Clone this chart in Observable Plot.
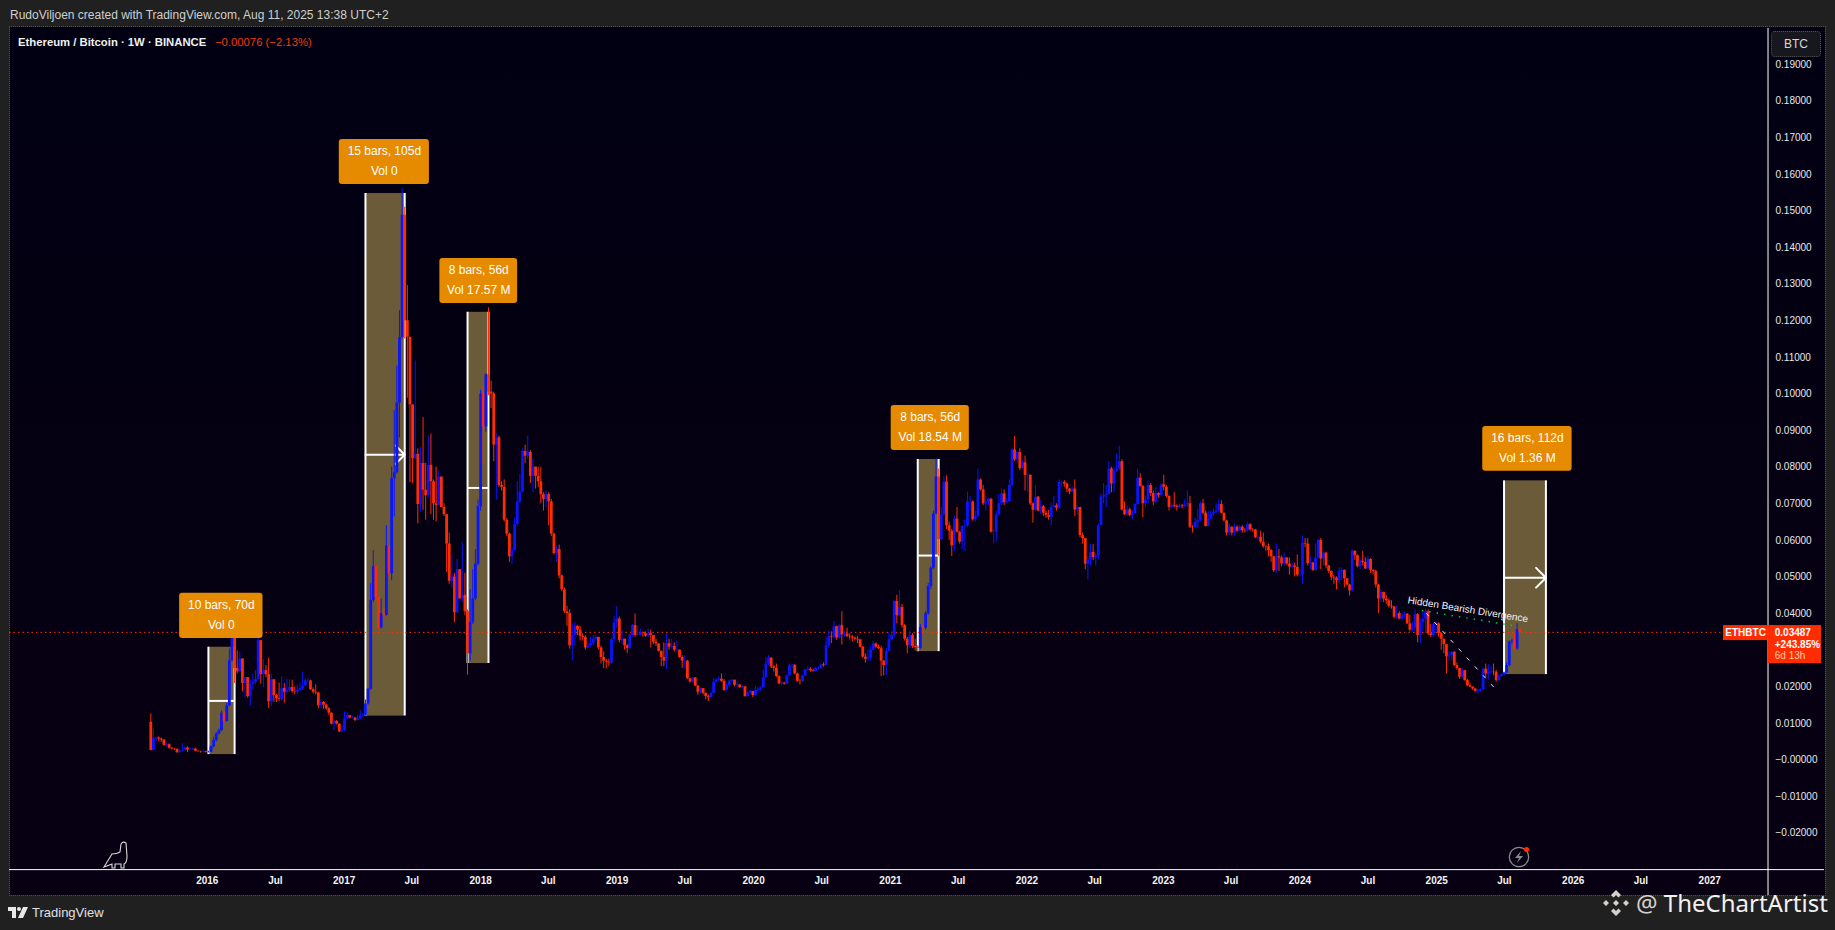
<!DOCTYPE html>
<html><head><meta charset="utf-8">
<script src="https://cdn.jsdelivr.net/npm/d3@7"></script>
<script src="https://cdn.jsdelivr.net/npm/@observablehq/plot@0.6"></script>
<style>
html,body{margin:0;padding:0;background:#202020;width:1835px;height:930px;overflow:hidden;font-family:"Liberation Sans",sans-serif}
.abs{position:absolute;white-space:nowrap}
#panel{left:10px;top:27px;width:1815px;height:868px;background:linear-gradient(#010012,#080012);outline:1px dotted #4d4d4d}
#chart{position:absolute;left:0;top:0;width:1835px;height:930px}
</style></head><body>
<div id="panel" class="abs"></div>
<div id="chart"></div>
<div class="abs" style="left:10px;top:7px;font-size:12px;line-height:16px;color:#cfcfcf">RudoViljoen created with TradingView.com, Aug 11, 2025 13:38 UTC+2</div>
<div class="abs" style="left:18px;top:34px;font-size:11.3px;line-height:16px;color:#f0f0f0;font-weight:700">Ethereum / Bitcoin · 1W · BINANCE</div>
<div class="abs" style="left:215px;top:34px;font-size:11.3px;line-height:16px;color:#f23a0c">−0.00076 (−2.13%)</div>
<div class="abs" style="left:1771px;top:31px;width:50px;height:26px;box-sizing:border-box;border:1px dotted #555;border-radius:4px;background:#17171f;color:#d8d8d8;font-size:12px;line-height:24px;text-align:center">BTC</div>
<svg class="abs" style="left:103px;top:841px" width="28" height="28" viewBox="0 0 28 28" fill="none" stroke="#d8d8d8" stroke-width="1.1"><path d="M1 26 L9 13 Q14 13 17 11 L18 3 Q20 0 23 2 L24 15 Q24 22 21 23 L21 27 L18 27 L18 23 L12 23 L12 27 L9 27 L9 23 Z"/></svg>
<svg class="abs" style="left:1507px;top:844px" width="26" height="26" viewBox="0 0 26 26" fill="none"><circle cx="12" cy="13" r="9.7" stroke="#8a8a8a" stroke-width="1.3"/><path d="M14 7 L8 14 H12 L10 19 L16 12 H12 Z" fill="#8a8a8a"/><circle cx="19.5" cy="5.5" r="2.6" fill="#ff2a00"/></svg>
<svg class="abs" style="left:8px;top:907px" width="20" height="12" viewBox="0 0 20 12" fill="#e8e8e8"><path d="M0 0H8V11H4V4H0Z"/><circle cx="11" cy="2" r="2"/><path d="M15 0H20L15 11H10Z"/></svg>
<div class="abs" style="left:32px;top:904px;font-size:13px;line-height:18px;color:#e0e0e0">TradingView</div>
<svg class="abs" style="left:1602px;top:889px" width="28" height="28" viewBox="0 0 28 28" fill="#d8d0c8"><path d="M14 1 L19 6 L16.5 8.5 L14 6 L11.5 8.5 L9 6 Z M1 14 L4 11 L7 14 L4 17 Z M21 14 L24 11 L27 14 L24 17 Z M11 14 L14 11 L17 14 L14 17 Z M14 27 L9 22 L11.5 19.5 L14 22 L16.5 19.5 L19 22 Z"/></svg>
<div class="abs" style="left:1636px;top:885px;font-family:'Noto Sans',sans-serif;font-size:24px;line-height:36px;color:#f2f2f2"><span style="color:#d8d0c8">@</span> TheChartArtist</div>
<script>
// ETH/BTC weekly candles, in units of 0.0001 BTC. Open of each week is the previous close.
const firstWeek = "2015-08-03";
const firstOpen = 103;
const closes = [
26,58,60,57,54,40,42,32,30,29,20,24,26,33,27,28,30,24,23,22,
23,21,21,36,53,71,80,128,105,148,271,365,250,241,276,209,225,173,207,212,
220,326,233,244,233,159,219,176,167,165,195,185,190,198,187,186,190,195,202,216,
216,192,185,183,148,157,150,140,128,98,105,98,77,80,112,121,115,115,108,112,
120,122,153,193,436,528,444,361,400,395,585,509,768,785,975,1154,1488,1200,1155,970,
823,835,698,810,737,722,805,760,700,695,773,690,670,590,488,500,402,520,440,450,
405,290,376,440,535,692,1000,910,1052,1005,1000,860,880,750,745,655,617,555,572,643,
705,732,843,830,840,775,800,775,760,725,712,725,705,617,564,575,503,465,405,400,
312,340,365,355,338,335,306,312,318,330,335,306,280,270,267,265,328,375,385,326,
330,312,305,340,367,340,340,347,345,338,345,340,322,317,297,280,270,318,308,310,
300,300,280,270,270,222,213,224,202,185,195,182,173,170,182,212,218,221,215,190,
203,215,218,204,205,198,200,173,183,187,176,190,193,197,225,262,278,254,250,228,
208,210,207,230,258,259,235,215,214,230,246,248,244,242,250,250,260,258,312,337,
335,364,333,367,342,344,337,336,333,330,328,308,281,275,278,300,317,308,304,270,
258,297,328,340,433,394,417,367,330,312,340,310,307,305,362,360,400,474,524,672,
773,602,670,759,640,625,585,658,622,595,638,640,705,705,656,665,765,738,700,705,
712,622,622,670,700,727,703,706,750,847,820,840,796,812,777,778,700,682,718,680,
692,674,668,663,690,694,688,758,758,754,740,732,740,683,690,613,605,535,546,567,
553,558,640,718,722,725,795,754,790,795,815,683,670,683,668,672,698,770,747,700,
710,750,728,705,728,722,752,745,720,690,695,693,690,694,692,697,700,636,635,650,
654,700,674,638,658,672,677,680,698,674,653,620,636,620,636,625,636,627,626,643,
629,628,607,608,595,583,582,572,555,517,555,552,536,552,535,527,530,526,505,505,
592,590,536,538,518,552,600,549,565,530,515,499,497,490,515,518,495,478,462,570,
558,528,543,540,522,548,518,515,478,440,458,440,435,420,418,390,400,385,395,398,
372,355,360,397,340,375,385,405,345,340,370,372,345,330,315,282,285,294,258,250,
226,244,217,203,199,194,187,190,192,248,235,240,241,240,217,228,233,238,258,323,
325,303,356.3,348.7];
const highs = [
126,85,62,63,60,56,46,44,34,32,30,28,45,35,36,34,32,32,25,24,
27,24,24,38,62,75,85,133,130,155,303,366,366,298,294,276,226,218,216,233,
244,339,326,274,258,278,235,220,180,210,227,209,220,219,218,200,205,210,240,222,
222,218,197,205,185,165,160,153,143,128,108,108,98,95,131,130,122,120,115,122,
135,127,164,196,481,571,528,445,440,413,640,585,800,954,1076,1228,1561,1510,1296,1155,
970,1090,850,854,935,810,885,890,765,800,790,773,700,670,620,560,510,548,520,593,
510,410,465,520,575,710,1010,1020,1055,1235,1035,1005,892,885,760,765,660,620,580,660,
760,780,850,860,885,845,822,800,800,800,730,735,730,712,620,585,587,505,470,420,
410,370,375,367,365,345,340,320,335,340,340,335,310,295,275,275,332,393,419,390,
355,330,315,345,370,399,365,358,350,350,358,355,340,330,318,295,320,345,330,330,
320,325,300,285,285,272,222,225,225,203,197,195,183,178,185,222,222,227,235,220,
207,218,220,218,215,206,204,200,185,190,187,200,197,200,245,280,285,280,258,262,
230,213,212,232,262,262,260,237,220,232,248,255,252,248,252,255,262,265,335,352,
350,378,366,370,405,350,360,345,340,336,338,330,310,290,300,310,325,320,314,310,
272,305,348,350,435,450,462,425,370,335,352,345,330,312,370,368,405,482,528,680,
822,795,690,775,776,650,630,665,690,625,640,655,732,720,708,680,795,768,750,720,
715,715,630,680,725,740,738,715,765,850,884,843,850,818,830,782,778,702,750,720,
710,695,680,682,700,720,700,765,762,763,757,742,745,765,695,690,620,605,555,590,
588,562,645,727,755,750,815,800,800,835,857,820,705,695,688,680,700,795,782,750,
720,762,755,735,745,730,755,778,750,722,700,730,697,700,698,710,735,720,640,660,
685,705,712,680,680,680,685,700,712,708,675,655,645,637,645,640,640,640,632,648,
645,632,630,612,625,620,585,590,575,555,590,575,557,565,553,552,540,538,560,520,
612,605,605,555,540,590,602,605,570,567,532,517,505,500,525,525,519,495,480,575,
572,560,550,570,553,556,550,520,518,480,465,458,450,440,435,420,420,405,400,403,
400,395,375,410,400,385,405,412,410,370,375,378,375,345,330,315,295,296,296,265,
250,250,245,220,210,200,195,192,194,252,262,260,255,262,245,232,235,240,265,325,
330,345,372,360];
const lows = [
25,25,50,50,48,38,36,30,28,26,18,18,21,25,20,25,26,23,21,19,
21,19,19,20,33,49,68,78,103,103,146,268,209,235,241,186,170,169,148,190,
205,217,207,198,225,141,146,158,157,160,162,155,180,185,183,178,178,187,190,200,
210,190,180,178,140,140,138,135,122,96,80,96,75,75,77,110,112,112,105,106,
110,115,120,150,190,430,430,355,358,390,393,497,490,664,780,880,1150,1150,988,757,
755,820,645,678,682,655,715,670,655,650,695,690,665,512,480,470,375,400,440,430,
395,232,270,370,435,530,680,810,895,995,960,815,710,745,735,650,610,540,535,570,
640,700,730,810,820,755,730,740,745,700,680,690,640,610,560,540,495,460,400,365,
303,270,310,340,325,325,300,305,308,312,325,300,262,250,249,255,262,320,360,320,
315,300,290,300,335,335,338,338,335,335,335,306,315,310,295,255,255,247,300,305,
295,295,278,250,248,220,210,210,200,177,180,178,165,160,170,180,210,213,212,188,
188,200,212,200,198,195,194,172,172,180,170,175,186,187,197,223,258,250,240,225,
205,205,205,208,228,250,233,212,205,212,228,243,240,240,240,245,248,254,258,305,
318,330,327,330,314,335,335,328,322,325,318,306,278,265,270,270,298,305,302,228,
230,230,295,325,335,372,390,360,325,290,305,305,298,295,302,345,355,395,465,520,
670,556,600,665,630,600,556,570,620,590,575,570,636,680,652,650,660,735,695,680,
695,620,590,595,665,695,695,700,704,745,815,812,790,795,735,730,695,647,680,678,
670,665,660,655,640,690,680,685,745,745,730,725,730,665,668,607,590,520,492,530,
545,530,548,640,700,690,725,730,730,785,790,680,668,665,665,655,680,695,745,662,
690,700,720,695,700,715,720,735,715,680,688,688,680,688,686,690,690,632,620,632,
632,650,670,636,638,655,665,672,675,672,650,612,612,612,612,622,625,620,620,622,
625,622,605,600,590,578,570,555,540,512,510,515,528,530,532,505,522,500,500,500,
480,580,530,520,515,515,550,520,530,522,510,490,480,465,480,490,470,475,448,458,
545,525,520,530,520,520,510,505,470,400,430,430,425,415,412,385,385,383,382,385,
370,350,350,350,320,318,350,345,340,335,335,350,335,300,290,235,270,270,255,245,
220,222,215,200,198,190,186,180,185,190,225,218,232,230,213,215,227,230,235,255,
315,300,300,343];
// Date-range measurements
const rangeText = ["10 bars, 70d\nVol 0","15 bars, 105d\nVol 0","8 bars, 56d\nVol 17.57 M","8 bars, 56d\nVol 18.54 M","16 bars, 112d\nVol 1.36 M"];
const rangeStart = ["2016-01-04","2017-02-27","2017-11-27","2021-03-15","2025-06-30"];
const rangeEnd = ["2016-03-14","2017-06-12","2018-01-22","2021-05-10","2025-10-20"];
const rangeTop = [0.0308,0.15475,0.1223,0.0821,0.07625];
const rangeBottom = [0.00148,0.01199,0.02634,0.0296,0.02333];
const labelStart = ["2015-10-19","2016-12-19","2017-09-14","2021-01-03","2025-05-04"];
const labelEnd = ["2016-05-29","2017-08-17","2018-04-10","2021-07-31","2025-12-29"];
const labelTop = [0.04555,0.1695,0.137,0.09683,0.09109];
const labelBottom = [0.03317,0.15721,0.1247,0.08454,0.07888];
// Axis ticks
const xTickYears = ["2016-01-01","2016-07-01","2017-01-01","2017-07-01","2018-01-01","2018-07-01","2019-01-01","2019-07-01","2020-01-01","2020-07-01","2021-01-01","2021-07-01","2022-01-01","2022-07-01","2023-01-01","2023-07-01","2024-01-01","2024-07-01","2025-01-01","2025-07-01","2026-01-01","2026-07-01","2027-01-01"];
const yTicks = [0.19,0.18,0.17,0.16,0.15,0.14,0.13,0.12,0.11,0.10,0.09,0.08,0.07,0.06,0.05,0.04,0.02,0.01,0,-0.01,-0.02];
const yTickLabels = ["0.19000","0.18000","0.17000","0.16000","0.15000","0.14000","0.13000","0.12000","0.11000","0.10000","0.09000","0.08000","0.07000","0.06000","0.05000","0.04000","0.02000","0.01000","−0.00000","−0.01000","−0.02000"];
const lastPrice = 0.03487;

const D = s => new Date(s + "T00:00:00Z");
const WEEK = 7 * 864e5;
const t0 = +D(firstWeek);
const n = Math.min(closes.length, highs.length, lows.length);
const candles = d3.range(n).map(i => {
  const open = i ? closes[i - 1] : firstOpen, close = closes[i];
  return {date: new Date(t0 + i * WEEK), open: open / 1e4, close: close / 1e4,
    high: Math.max(highs[i], open, close) / 1e4, low: Math.min(lows[i], open, close) / 1e4};
});
const ranges = rangeText.map((text, i) => ({text, start: D(rangeStart[i]), end: D(rangeEnd[i]), top: rangeTop[i], bottom: rangeBottom[i],
  mid: (rangeTop[i] + rangeBottom[i]) / 2, ls: D(labelStart[i]), le: D(labelEnd[i]), lt: labelTop[i], lb: labelBottom[i],
  lx: new Date((+D(labelStart[i]) + +D(labelEnd[i])) / 2), ly: (labelTop[i] + labelBottom[i]) / 2}));
const RED = "#ff2c00", BLUE = "#0a14ff", FILL = "#6b5b39";
const color = d => d.close >= d.open ? BLUE : RED;
const edgeL = D("2014-07-21"), priceAxis = D("2027-06-06"), edgeR = D("2027-11-04"), tagL = D("2027-02-07"), tagR = D("2027-10-27");
const timeAxis = -0.02995, topY = 0.19984, botY = -0.03705;
const labelMap = new Map(yTicks.map((v, i) => [v, yTickLabels[i]]));
const xMonths = xTickYears.map(D);

const figure = Plot.plot({
  width: 1835, height: 930,
  marginLeft: 10, marginRight: 67, marginTop: 28, marginBottom: 61,
  style: {background: "transparent", color: "#fff", fontFamily: "'Liberation Sans',sans-serif", overflow: "visible"},
  x: {type: "utc", domain: [D("2016-01-01"), D("2027-01-01")], range: [206.8, 1709.2]},
  y: {type: "linear", domain: [-0.02, 0.19], range: [832.7, 64]},
  marks: [
    Plot.rect(ranges, {x1: "start", x2: "end", y1: "bottom", y2: "top", fill: FILL}),
    Plot.ruleX(ranges, {x: "start", y1: "bottom", y2: "top", stroke: "#fff", strokeWidth: 2}),
    Plot.ruleX(ranges, {x: "end", y1: "bottom", y2: "top", stroke: "#fff", strokeWidth: 2}),
    Plot.arrow(ranges.filter((d, i) => i === 1 || i === 4), {x1: "start", x2: "end", y1: "mid", y2: "mid", stroke: "#fff", strokeWidth: 2, headAngle: 90, headLength: 14}),
    Plot.link(ranges.filter((d, i) => i !== 1 && i !== 4), {x1: "start", x2: "end", y1: "mid", y2: "mid", stroke: "#fff", strokeWidth: 2}),
    Plot.ruleY([lastPrice], {x1: edgeL, x2: tagL, stroke: "#ff3300", strokeWidth: 1, strokeDasharray: "1.5,3"}),
    Plot.ruleX(candles, {x: "date", y1: "low", y2: "high", stroke: color, strokeWidth: 1}),
    Plot.ruleX(candles, {x: "date", y1: "open", y2: "close", stroke: color, strokeWidth: 2.8}),
    Plot.link([{x1: D("2024-11-22"), y1: 0.04082, x2: D("2025-08-04"), y2: 0.03653}], {x1: "x1", y1: "y1", x2: "x2", y2: "y2", stroke: "#00cc22", strokeWidth: 1.5, strokeDasharray: "1.5,6"}),
    Plot.link([{x1: D("2024-12-04"), y1: 0.04008, x2: D("2025-06-03"), y2: 0.01986}], {x1: "x1", y1: "y1", x2: "x2", y2: "y2", stroke: "#e8e8e8", strokeWidth: 1, strokeDasharray: "4,8"}),
    Plot.text(["Hidden Bearish Divergence"], {x: D("2025-03-25"), y: 0.04109, rotate: 9, fill: "#f2f2f2", fontSize: 10, text: d => d}),
    Plot.rect(ranges, {x1: "ls", x2: "le", y1: "lb", y2: "lt", fill: "#e68a00", rx: 3}),
    Plot.text(ranges, {x: "lx", y: "ly", dy: -3, text: "text", fill: "#fff", fontSize: 12, lineHeight: 1.67}),
    Plot.ruleY([timeAxis], {x1: edgeL, x2: edgeR, stroke: "#fff", strokeWidth: 1}),
    Plot.ruleX([priceAxis], {y1: botY, y2: topY, stroke: "#fff", strokeWidth: 1}),
    Plot.axisX({anchor: "bottom", ticks: xMonths, tickSize: 0, tickPadding: 7, fontSize: 10, fontWeight: 700, fill: "#f4f4f4",
      tickFormat: d => d.getUTCMonth() === 0 ? String(d.getUTCFullYear()) : "Jul", label: null}),
    Plot.axisY({anchor: "right", ticks: yTicks, tickSize: 0, tickPadding: 7, fontSize: 10, fill: "#e8e8e8", tickFormat: d => labelMap.get(d), label: null}),
    Plot.rect([0], {x1: tagL, x2: priceAxis, y1: 0.03262, y2: 0.03672, fill: "#ff2c00"}),
    Plot.rect([0], {x1: priceAxis, x2: tagR, y1: 0.02634, y2: 0.03672, fill: "#ff2c00"}),
    Plot.text(["ETHBTC"], {x: D("2027-04-07"), y: lastPrice, text: d => d, fill: "#fff", fontSize: 10, fontWeight: 700}),
    Plot.text(["0.03487"], {x: D("2027-06-24"), y: lastPrice, text: d => d, fill: "#fff", fontSize: 10, fontWeight: 700, textAnchor: "start"}),
    Plot.text(["+243.85%"], {x: D("2027-06-24"), y: 0.03153, text: d => d, fill: "#fff", fontSize: 10, fontWeight: 700, textAnchor: "start"}),
    Plot.text(["6d 13h"], {x: D("2027-06-24"), y: 0.02833, text: d => d, fill: "#ffd0a0", fontSize: 10, textAnchor: "start"})
  ]
});
document.getElementById("chart").appendChild(figure);
</script>
</body></html>
